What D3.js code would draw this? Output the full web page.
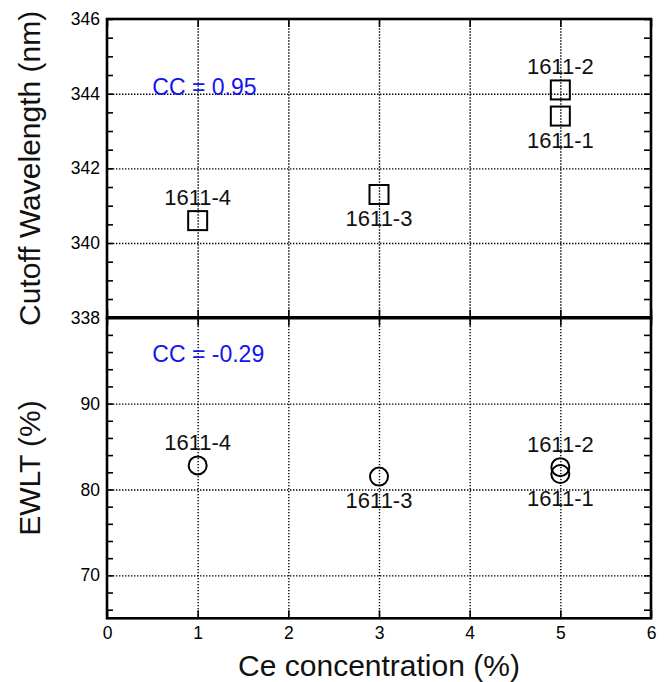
<!DOCTYPE html>
<html>
<head>
<meta charset="utf-8">
<script src="https://cdn.jsdelivr.net/npm/d3@7"></script>
<style>
  html, body { margin: 0; padding: 0; background: #fff; }
  svg { display: block; font-family: "Liberation Sans", Arial, sans-serif; }
</style>
</head>
<body>
<svg id="chart" width="666" height="682"></svg>
<script>
// Samples and Ce concentration (%)
const samples = ["1611-1", "1611-2", "1611-3", "1611-4"];
const ceConcentration = [5, 5, 3, 1];
// Cutoff wavelength (nm) and EWLT (%) per sample
const cutoffWavelength = [343.4, 344.1, 341.3, 340.6];
const ewlt = [81.8, 82.6, 81.5, 82.8];
// Which side of the marker each sample label sits on
const cutoffLabelSide = ["below", "above", "below", "above"];
const ewltLabelSide = ["below", "above", "below", "above"];
// Correlation coefficients
const ccCutoff = "CC = 0.95";
const ccEwlt = "CC = -0.29";
// Axis ticks
const xTicks = [0, 1, 2, 3, 4, 5, 6];
const cutoffTicks = [338, 340, 342, 344, 346];
const ewltTicks = [70, 80, 90];

const svg = d3.select("#chart");
const left = 107, right = 651;
const topY = 19, midY = 317.7, botY = 618.3;

const x = d3.scaleLinear().domain([0, 6]).range([left, right]);
const yTop = d3.scaleLinear().domain([338, 346]).range([midY, topY]);
const yBot = d3.scaleLinear().domain([65, 100]).range([botY, midY]);

function panel(y, y0, y1, majorTicks, minorTicks, showXLabels) {
  const g = svg.append("g");
  const h = y1 - y0, w = right - left;

  // dotted grid
  g.append("g").attr("transform", `translate(0,${y1})`)
    .call(d3.axisBottom(x).tickValues([1, 2, 3, 4, 5]).tickSize(-h).tickFormat(""))
    .call(s => s.select(".domain").remove())
    .selectAll("line").attr("stroke", "#000").attr("stroke-width", 1.4).attr("stroke-dasharray", "1.4,1.6");
  g.append("g").attr("transform", `translate(${left},0)`)
    .call(d3.axisLeft(y).tickValues(majorTicks.filter(v => v > y.domain()[0] && v < y.domain()[1])).tickSize(-w).tickFormat(""))
    .call(s => s.select(".domain").remove())
    .selectAll("line").attr("stroke", "#000").attr("stroke-width", 1.4).attr("stroke-dasharray", "1.4,1.6");

  // inward ticks on all four sides
  const fmtY = d => majorTicks.includes(d) ? String(d) : "";
  g.append("g").attr("transform", `translate(${left},0)`)
    .call(d3.axisLeft(y).tickValues(minorTicks).tickSize(-6).tickPadding(7).tickFormat(fmtY));
  g.append("g").attr("transform", `translate(${right},0)`)
    .call(d3.axisRight(y).tickValues(minorTicks).tickSize(-7).tickFormat(""));
  g.append("g").attr("transform", `translate(0,${y1})`)
    .call(d3.axisBottom(x).tickValues(xTicks).tickSize(-8).tickPadding(8).tickFormat(showXLabels ? d3.format("d") : ""));
  g.append("g").attr("transform", `translate(0,${y0})`)
    .call(d3.axisTop(x).tickValues(xTicks).tickSize(-8).tickFormat(""));

  g.selectAll(".domain").remove();
  g.selectAll(".tick line").filter(function () { return !this.getAttribute("stroke-dasharray"); })
    .attr("stroke", "#000").attr("stroke-width", 1.6);
  g.selectAll(".tick text").attr("font-size", 17.5).attr("fill", "#000")
    .attr("font-family", "Liberation Sans, Arial, sans-serif");

  // frame
  g.append("rect").attr("x", left).attr("y", y0).attr("width", w).attr("height", h)
    .attr("fill", "none").attr("stroke", "#000").attr("stroke-width", 2.6);
  return g;
}

const minorCutoff = d3.range(338, 346.01, 0.5);
const minorEwlt = d3.range(66, 99, 2);
const gTop = panel(yTop, topY, midY, cutoffTicks, minorCutoff, false);
const gBot = panel(yBot, midY, botY, ewltTicks, minorEwlt, true);

// thicker shared border between the two panels
svg.append("line").attr("x1", left).attr("x2", right).attr("y1", midY).attr("y2", midY)
  .attr("stroke", "#000").attr("stroke-width", 3.4);

const idx = d3.range(samples.length);

// square markers: cutoff wavelength
gTop.selectAll("rect.pt").data(idx).join("rect").attr("class", "pt")
  .attr("x", i => x(ceConcentration[i]) - 9.5)
  .attr("y", i => yTop(cutoffWavelength[i]) - 9.5)
  .attr("width", 19).attr("height", 19)
  .attr("fill", "none").attr("stroke", "#000").attr("stroke-width", 2);

// circle markers: EWLT
gBot.selectAll("circle.pt").data(idx).join("circle").attr("class", "pt")
  .attr("cx", i => x(ceConcentration[i]))
  .attr("cy", i => yBot(ewlt[i]))
  .attr("r", 9)
  .attr("fill", "none").attr("stroke", "#000").attr("stroke-width", 2);

// sample labels
function labels(g, y, values, sides) {
  g.selectAll("text.lbl").data(idx).join("text").attr("class", "lbl")
    .attr("x", i => x(ceConcentration[i]))
    .attr("y", i => y(values[i]) + (sides[i] === "above" ? -15.5 : 31.5))
    .attr("text-anchor", "middle").attr("font-size", 22).attr("fill", "#111")
    .text(i => samples[i]);
}
labels(gTop, yTop, cutoffWavelength, cutoffLabelSide);
labels(gBot, yBot, ewlt, ewltLabelSide);

// correlation annotations
gTop.append("text").attr("x", x(0.5)).attr("y", yTop(344) + 1.5)
  .attr("font-size", 23).attr("fill", "#1414f0").text(ccCutoff);
gBot.append("text").attr("x", x(0.5)).attr("y", yBot(95) + 1)
  .attr("font-size", 23).attr("fill", "#1414f0").text(ccEwlt);

// axis titles
svg.append("text").attr("x", x(3)).attr("y", 676).attr("text-anchor", "middle")
  .attr("font-size", 30).attr("fill", "#111").text("Ce concentration (%)");
svg.append("text").attr("transform", `translate(40,${(topY + midY) / 2}) rotate(-90)`)
  .attr("text-anchor", "middle").attr("font-size", 30).attr("fill", "#111").text("Cutoff Wavelength (nm)");
svg.append("text").attr("transform", `translate(40,${(midY + botY) / 2}) rotate(-90)`)
  .attr("text-anchor", "middle").attr("font-size", 30).attr("fill", "#111").text("EWLT (%)");
</script>
</body>
</html>
